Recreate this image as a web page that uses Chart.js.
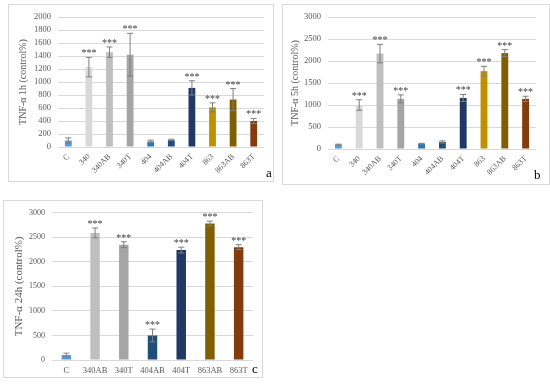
<!DOCTYPE html>
<html>
<head>
<meta charset="utf-8">
<script src="https://cdn.jsdelivr.net/npm/chart.js@4"></script>
<style>
  body { margin: 0; background: #fff; width: 550px; height: 384px; position: relative; overflow: hidden; }
  .panel { position: absolute; border: 1px solid #d9d9d9; box-sizing: border-box; background: #fff; }
  .panel canvas { position: absolute; left: 0; top: 0; }
  .tag { position: absolute; font-family: "Liberation Serif", "Times New Roman", serif; font-size: 13px; color: #000; }
</style>
</head>
<body>
<div class="panel" id="pa" style="left:8px;top:4px;width:266px;height:178px;">
  <canvas id="chartA" width="264" height="176"></canvas>
  <span class="tag" style="left:257px;top:160px;">a</span>
</div>
<div class="panel" id="pb" style="left:282px;top:4px;width:268px;height:181px;">
  <canvas id="chartB" width="266" height="179"></canvas>
  <span class="tag" style="left:251px;top:162px;">b</span>
</div>
<div class="panel" id="pc" style="left:3px;top:200px;width:260px;height:178px;">
  <canvas id="chartC" width="258" height="176"></canvas>
  <span class="tag" style="left:248px;top:160px;">c</span>
</div>
<script>
// categories
const groups10 = ['C', '340', '340AB', '340T', '404', '404AB', '404T', '863', '863AB', '863T'];
const groups7 = ['C', '340AB', '340T', '404AB', '404T', '863AB', '863T'];

// TNF-α 1h
const tnf1h = [100, 1230, 1460, 1420, 85, 110, 910, 610, 730, 400];
const tnf1hErr = [40, 150, 80, 330, 20, 10, 110, 70, 170, 40];
// TNF-α 5h
const tnf5h = [100, 1000, 2170, 1140, 120, 160, 1160, 1770, 2180, 1140];
const tnf5hErr = [10, 120, 210, 90, 10, 25, 80, 110, 80, 60];
// TNF-α 24h
const tnf24h = [100, 2590, 2350, 500, 2240, 2780, 2300];
const tnf24hErr = [40, 100, 60, 130, 60, 50, 50];

// significance marks (*** for every treated group)
const sig10 = ['', '***', '***', '***', '', '', '***', '***', '***', '***'];
const sig24 = ['', '***', '***', '***', '***', '***', '***'];

const colors10 = ['#5b9bd5', '#d9d9d9', '#bfbfbf', '#a5a5a5', '#2e75b6', '#1f4e79', '#1f3864', '#bf9000', '#7f6000', '#843c0c'];
const colors24 = ['#5b9bd5', '#bfbfbf', '#a5a5a5', '#1f4e79', '#1f3864', '#7f6000', '#843c0c'];

const serif = '"Liberation Serif", "Times New Roman", serif';

// error bars + stars drawn from the y scale
const errorBars = {
  id: 'errorBars',
  afterDatasetsDraw(chart, args, opts) {
    const ctx = chart.ctx;
    const y = chart.scales.y;
    const meta = chart.getDatasetMeta(0);
    const vals = chart.data.datasets[0].data;
    ctx.save();
    meta.data.forEach((bar, i) => {
      const top = y.getPixelForValue(vals[i] + opts.err[i]);
      const bot = y.getPixelForValue(vals[i] - opts.err[i]);
      ctx.strokeStyle = '#7f7f7f';
      ctx.lineWidth = 1;
      ctx.beginPath();
      ctx.moveTo(bar.x, top); ctx.lineTo(bar.x, bot);
      ctx.moveTo(bar.x - 3, top); ctx.lineTo(bar.x + 3, top);
      ctx.moveTo(bar.x - 3, bot); ctx.lineTo(bar.x + 3, bot);
      ctx.stroke();
      if (opts.sig[i]) {
        ctx.fillStyle = '#404040';
        ctx.font = '10px ' + serif;
        ctx.textAlign = 'center';
        ctx.textBaseline = 'alphabetic';
        ctx.fillText(opts.sig[i], bar.x, top - 1);
      }
    });
    ctx.restore();
  }
};

function makeChart(id, labels, values, errs, sig, colors, cfg) {
  return new Chart(document.getElementById(id), {
    type: 'bar',
    data: {
      labels: labels,
      datasets: [{
        data: values,
        backgroundColor: colors,
        barPercentage: 0.33,
        categoryPercentage: 1
      }]
    },
    options: {
      responsive: false,
      animation: false,
      layout: { padding: { top: cfg.top, right: cfg.right, left: 0, bottom: 0 } },
      plugins: {
        legend: { display: false },
        tooltip: { enabled: false },
        errorBars: { err: errs, sig: sig }
      },
      scales: {
        x: {
          grid: { display: false, drawTicks: false },
          border: { display: false },
          ticks: {
            color: '#595959',
            font: { family: serif, size: cfg.xFont },
            minRotation: cfg.rot, maxRotation: cfg.rot,
            padding: cfg.xPad,
            autoSkip: false
          },
          afterFit(s) { s.height = cfg.xH; }
        },
        y: {
          min: 0, max: cfg.max,
          grid: { color: '#d9d9d9', drawTicks: false },
          border: { display: false },
          ticks: {
            stepSize: cfg.step,
            autoSkip: false,
            color: '#595959',
            font: { family: serif, size: cfg.yFont },
            padding: 7,
            callback: v => String(v)
          },
          title: {
            display: true,
            text: cfg.title,
            color: '#595959',
            font: { family: serif, size: cfg.tFont },
            padding: { top: cfg.tPad, bottom: 0 }
          },
          afterFit(s) { s.width = cfg.yW; }
        }
      }
    },
    plugins: [errorBars]
  });
}

makeChart('chartA', groups10, tnf1h, tnf1hErr, sig10, colors10,
  { top: 10, right: 9, max: 2000, step: 200, title: 'TNF-α 1h (control%)', yW: 49, xH: 34, rot: 45, xFont: 8, yFont: 8.5, tFont: 10, tPad: 8, xPad: 5 });
makeChart('chartB', groups10, tnf5h, tnf5hErr, sig10, colors10,
  { top: 10, right: 13, max: 3000, step: 500, title: 'TNF-α 5h (control%)', yW: 45, xH: 35, rot: 45, xFont: 8, yFont: 8.5, tFont: 10, tPad: 6, xPad: 5 });
makeChart('chartC', groups7, tnf24h, tnf24hErr, sig24, colors24,
  { top: 10, right: 9, max: 3000, step: 500, title: 'TNF-α 24h (control%)', yW: 48, xH: 17, rot: 0, xFont: 8.5, yFont: 8, tFont: 11, tPad: 9, xPad: 6 });
</script>
</body>
</html>
